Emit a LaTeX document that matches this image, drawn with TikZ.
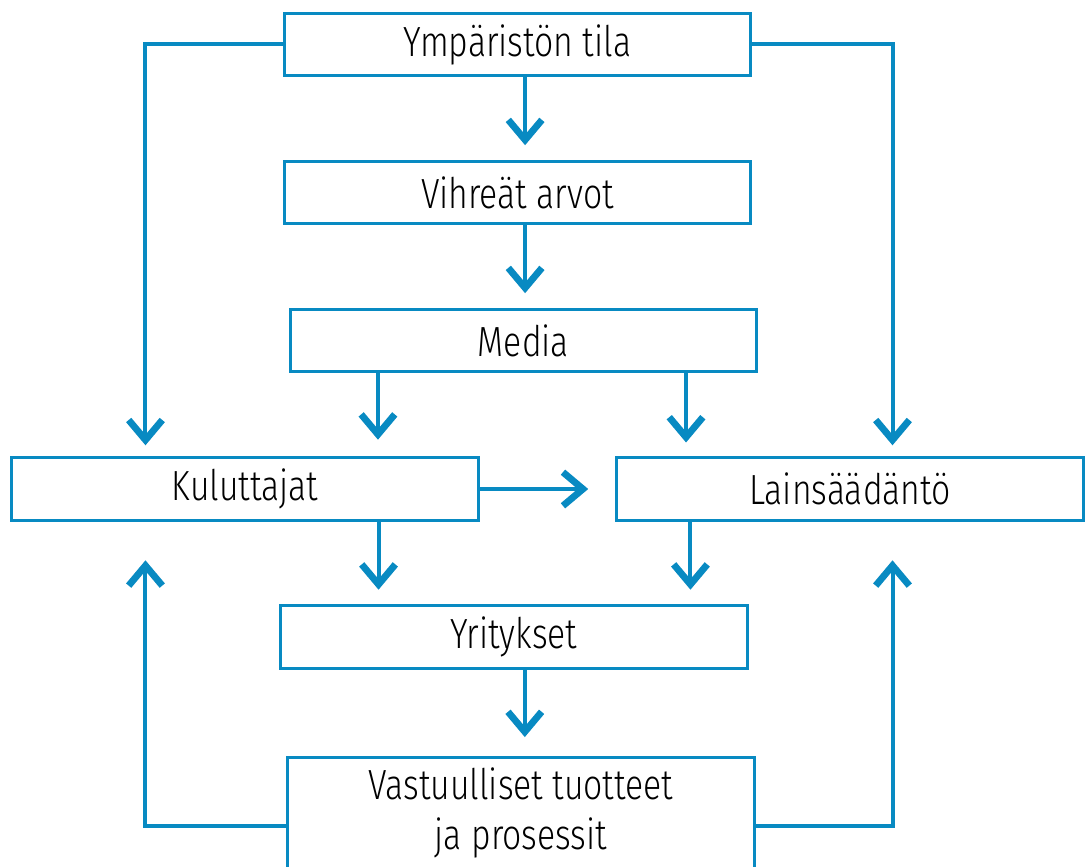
\documentclass[tikz,border=0pt]{standalone}
\usepackage{fontspec}
\setmainfont{Fira Sans Light}[FakeStretch=0.8]
\usepackage{tikz}
\usetikzlibrary{arrows.meta, positioning}
\definecolor{flowblue}{RGB}{8,138,194}

\begin{document}
\begin{tikzpicture}[
  x=0.025cm, y=-0.025cm,
  box/.style={draw=flowblue, line width=0.075cm, fill=white,
              minimum width=11.65cm, minimum height=1.55cm,
              inner sep=0pt, align=center,
              font=\fontsize{30}{35}\selectfont},
  arr/.style={-{Straight Barb[length=0.5cm, width=0.84cm, sharp, line width=0.17cm 0]},
              draw=flowblue, line width=0.1cm}
]
  \useasboundingbox (0,0) rectangle (1086,867);

  % - Keskisarake -
  \node[box] (ymp)   at (517.5,44.5) {Ympäristön tila};
  \node[box] (vihr)  at (517.5,192.5) {Vihreät arvot};
  \node[box] (media) at (523.5,340.5) {Media};
  \node[box] (yri)   at (514,637)    {Yritykset};
  \node[box, minimum height=2.78cm] (vast) at (521,813)
        {Vastuulliset tuotteet\\ja prosessit};

  % - Sivut -
  \node[box] (kul)  at (245,489) {Kuluttajat};
  \node[box] (lain) at (850,489) {Lainsäädäntö};

  % - Nuolet alas -
  \draw[arr, shorten >=0.37cm] ([xshift=0.19cm]ymp.south)
        -- ([xshift=0.19cm]ymp.south |- vihr.north);
  \draw[arr, shorten >=0.37cm] ([xshift=0.19cm]vihr.south)
        -- ([xshift=0.19cm]vihr.south |- media.north);
  \draw[arr, shorten >=0.42cm] ([xshift=2.225cm]media.south west)
        -- ([xshift=2.225cm]media.south west |- kul.north);
  \draw[arr, shorten >=0.35cm] ([xshift=9.925cm]media.south west)
        -- ([xshift=9.925cm]media.south west |- lain.north);
  \draw[arr, shorten >=0.37cm] ([xshift=9.2cm]kul.south west)
        -- ([xshift=9.2cm]kul.south west |- yri.north);
  \draw[arr, shorten >=0.37cm] ([xshift=1.875cm]lain.south west)
        -- ([xshift=1.875cm]lain.south west |- yri.north);
  \draw[arr, shorten >=0.47cm] ([xshift=0.27cm]yri.south)
        -- ([xshift=0.27cm]yri.south |- vast.north);
  \draw[arr, shorten >=0.68cm] (kul.east) -- (lain.west);

  % - Reunakierrot -
  \draw[arr, shorten >=0.28cm] (ymp.west)
        -| ([xshift=3.375cm]kul.north west);
  \draw[arr, shorten >=0.28cm] (ymp.east)
        -| ([xshift=-4.8cm]lain.north east);
  \draw[arr, shorten >=0.97cm] ([yshift=-0.32cm]vast.west)
        -| ([xshift=3.375cm]kul.south west);
  \draw[arr, shorten >=0.97cm] ([yshift=-0.32cm]vast.east)
        -| ([xshift=-4.8cm]lain.south east);
\end{tikzpicture}
\end{document}
